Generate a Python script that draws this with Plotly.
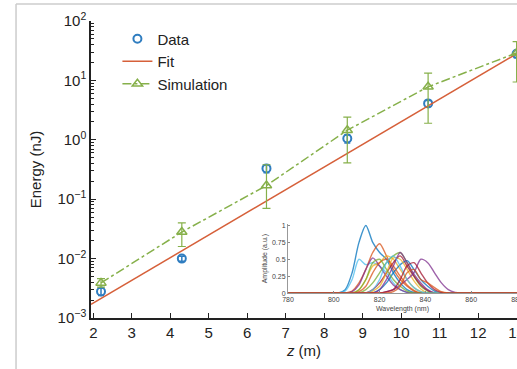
import plotly.graph_objects as go

# ---------------- main data ----------------
data_z = [2.2, 4.3, 6.5, 8.6, 10.7, 13.0]
data_E = [0.0028, 0.0100, 0.33, 1.05, 4.1, 28.0]
data_err = [0.0004, 0.0010, 0.05, 0.17, 0.5, 4.0]

fit_z = [1.94, 13.0]
fit_E = [0.0017, 28.0]

sim_z = [2.2, 4.3, 6.5, 8.6, 10.7, 13.0]
sim_E = [0.0039, 0.028, 0.17, 1.45, 7.8, 29.0]
sim_hi = [0.0046, 0.040, 0.38, 2.4, 13.3, 45.0]
sim_lo = [0.0033, 0.016, 0.07, 0.41, 1.9, 9.4]

y_tickvals = [1e-3, 1e-2, 1e-1, 1e0, 1e1, 1e2]
y_ticktext = ["10<sup>\u22123</sup>", "10<sup>\u22122</sup>", "10<sup>\u22121</sup>",
              "10<sup>0</sup>", "10<sup>1</sup>", "10<sup>2</sup>"]
y_minor_digits = [2, 3, 4, 5, 6, 7, 8, 9]
x_tickvals = [2, 3, 4, 5, 6, 7, 8, 9, 10, 11, 12, 13]

# ---------------- inset spectra ----------------
wl = [780, 802, 805, 808, 811, 814, 817, 820, 823, 826, 829, 832, 835, 838, 841, 844, 847, 850, 853, 856, 880]
spectra = [
    [0, 0, 0.05, 0.30, 0.75, 1.00, 0.75, 0.60, 0.50, 0.30, 0.15, 0.05, 0.01, 0, 0, 0, 0, 0, 0, 0, 0],
    [0, 0, 0.03, 0.20, 0.50, 0.42, 0.45, 0.40, 0.30, 0.15, 0.05, 0.01, 0, 0, 0, 0, 0, 0, 0, 0, 0],
    [0, 0, 0, 0.03, 0.15, 0.35, 0.60, 0.73, 0.55, 0.35, 0.20, 0.10, 0.03, 0, 0, 0, 0, 0, 0, 0, 0],
    [0, 0, 0, 0, 0.05, 0.20, 0.40, 0.45, 0.55, 0.50, 0.35, 0.20, 0.08, 0.02, 0, 0, 0, 0, 0, 0, 0],
    [0, 0, 0, 0.02, 0.12, 0.35, 0.52, 0.40, 0.25, 0.12, 0.05, 0.01, 0, 0, 0, 0, 0, 0, 0, 0, 0],
    [0, 0, 0, 0, 0, 0.05, 0.15, 0.30, 0.45, 0.55, 0.60, 0.45, 0.25, 0.10, 0.03, 0, 0, 0, 0, 0, 0],
    [0, 0, 0, 0, 0, 0, 0.05, 0.15, 0.30, 0.45, 0.55, 0.40, 0.25, 0.12, 0.04, 0, 0, 0, 0, 0, 0],
    [0, 0, 0, 0, 0, 0, 0, 0.05, 0.15, 0.30, 0.42, 0.48, 0.35, 0.20, 0.10, 0.03, 0, 0, 0, 0, 0],
    [0, 0, 0, 0, 0.02, 0.10, 0.30, 0.45, 0.50, 0.40, 0.25, 0.12, 0.04, 0, 0, 0, 0, 0, 0, 0, 0],
    [0, 0, 0, 0, 0, 0, 0.03, 0.10, 0.30, 0.52, 0.50, 0.35, 0.18, 0.06, 0, 0, 0, 0, 0, 0, 0],
    [0, 0, 0, 0, 0, 0, 0, 0.05, 0.20, 0.40, 0.60, 0.45, 0.28, 0.15, 0.05, 0, 0, 0, 0, 0, 0],
    [0, 0, 0, 0, 0, 0, 0, 0, 0.02, 0.05, 0.12, 0.20, 0.30, 0.50, 0.45, 0.30, 0.15, 0.05, 0.01, 0, 0],
    [0, 0, 0, 0, 0.05, 0.20, 0.45, 0.50, 0.35, 0.20, 0.10, 0.03, 0, 0, 0, 0, 0, 0, 0, 0, 0],
    [0, 0, 0, 0, 0, 0, 0.05, 0.20, 0.45, 0.55, 0.40, 0.20, 0.08, 0.02, 0, 0, 0, 0, 0, 0, 0],
    [0, 0, 0, 0, 0, 0, 0, 0, 0.02, 0.05, 0.20, 0.40, 0.45, 0.30, 0.15, 0.05, 0.01, 0, 0, 0, 0],
    [0, 0, 0, 0, 0, 0, 0, 0, 0, 0.02, 0.10, 0.30, 0.35, 0.20, 0.15, 0.08, 0.02, 0, 0, 0, 0],
]
spectra_colors = ["#0072BD", "#4DBEEE", "#D95319", "#EDB120", "#7E2F8E", "#77AC30", "#A2142F",
                  "#0072BD", "#D95319", "#EDB120", "#7E2F8E", "#7E2F8E", "#77AC30", "#4DBEEE",
                  "#A2142F", "#D95319"]
inset_xticks = [780, 800, 820, 840, 860, 880]
inset_yticks = [0, 0.25, 0.5, 0.75, 1]
inset_yticktext = ["0", "0.25", "0.5", "0.75", "1"]

BLUE = "#2f7dc0"
GREEN = "#86b04a"
RED = "#d6603a"
FONT = "Liberation Sans, Arial, sans-serif"

minor_vals = [d * 10.0 ** e for e in range(-3, 2) for d in y_minor_digits]

fig = go.Figure()

fig.add_trace(go.Scatter(
    x=data_z, y=data_E, mode="markers", name="Data",
    marker=dict(symbol="circle-open", size=8, color=BLUE, line=dict(width=2, color=BLUE)),
    error_y=dict(type="data", array=data_err, color=BLUE, thickness=1.5, width=3),
    cliponaxis=False,
))
fig.add_trace(go.Scatter(
    x=fit_z, y=fit_E, mode="lines", name="Fit",
    line=dict(color=RED, width=1.5),
))
fig.add_trace(go.Scatter(
    x=sim_z, y=sim_E, mode="lines+markers", name="Simulation",
    line=dict(color=GREEN, width=1.5, dash="dashdot"),
    marker=dict(symbol="triangle-up-open", size=9, color=GREEN, line=dict(width=1.5, color=GREEN)),
    error_y=dict(type="data", symmetric=False,
                 array=[h - e for h, e in zip(sim_hi, sim_E)],
                 arrayminus=[e - l for e, l in zip(sim_E, sim_lo)],
                 color=GREEN, thickness=1.2, width=4),
    cliponaxis=False,
))

for amp, col in zip(spectra, spectra_colors):
    fig.add_trace(go.Scatter(
        x=wl, y=amp, mode="lines", xaxis="x2", yaxis="y2", showlegend=False,
        line=dict(color=col, width=1.4, shape="spline", smoothing=0.8), opacity=0.75,
    ))

fig.update_layout(
    width=517, height=369,
    margin=dict(l=91, r=0, t=21, b=51),
    paper_bgcolor="white", plot_bgcolor="rgba(0,0,0,0)",
    font=dict(family=FONT, color="#222"),
    showlegend=True,
    legend=dict(x=0.062, y=0.995, xanchor="left", yanchor="top",
                font=dict(size=15, family=FONT, color="#222"),
                bgcolor="rgba(0,0,0,0)", tracegroupgap=0),
    xaxis=dict(
        range=[1.94, 13.01], tickvals=x_tickvals, ticks="inside", ticklen=5, tickwidth=1.3,
        tickcolor="#222", showline=True, linecolor="#222", linewidth=1.5, showgrid=False,
        zeroline=False, tickfont=dict(size=15, family=FONT, color="#222"), automargin=False,
        ticklabeloverflow="allow",
        title=dict(text="<i>z</i> (m)", font=dict(size=15, family=FONT, color="#222"), standoff=6),
    ),
    yaxis=dict(
        type="log", range=[-3, 2], tickvals=y_tickvals, ticktext=y_ticktext,
        ticks="inside", ticklen=5, tickwidth=1.3, tickcolor="#222", automargin=False,
        showline=True, linecolor="#222", linewidth=1.5, showgrid=False, zeroline=False,
        tickfont=dict(size=15, family=FONT, color="#222"),
        minor=dict(ticks="inside", ticklen=3, tickwidth=1, tickcolor="#222", showgrid=False,
                   tickvals=minor_vals),
        title=dict(text="Energy (nJ)", font=dict(size=15, family=FONT, color="#222"), standoff=12),
    ),
    xaxis2=dict(
        domain=[0.4624, 1.0], anchor="y2", range=[780, 880], tickvals=inset_xticks,
        ticks="inside", ticklen=2, tickcolor="#888", showline=True, linecolor="#999", linewidth=1,
        showgrid=False, zeroline=False, tickfont=dict(size=7, family=FONT, color="#444"),
        automargin=False, ticklabeloverflow="allow",
        title=dict(text="Wavelength (nm)", font=dict(size=7, family=FONT, color="#444"), standoff=3),
    ),
    yaxis2=dict(
        domain=[0.084, 0.316], anchor="x2", range=[0, 1.02], tickvals=inset_yticks,
        ticktext=inset_yticktext, ticks="inside", ticklen=2, tickcolor="#888",
        showline=True, linecolor="#999", linewidth=1, showgrid=False, zeroline=False,
        tickfont=dict(size=7, family=FONT, color="#444"), automargin=False,
        title=dict(text="Amplitude (a.u.)", font=dict(size=7, family=FONT, color="#444"), standoff=3),
    ),
    shapes=[
        dict(type="line", xref="paper", yref="paper", x0=-0.176, x1=1.1, y0=1.057, y1=1.057,
             line=dict(color="#cccccc", width=1.5)),
        dict(type="line", xref="paper", yref="paper", x0=-0.176, x1=-0.176, y0=1.057, y1=-0.3,
             line=dict(color="#cccccc", width=1.5)),
    ],
)

fig.write_html("out.html", config={"displayModeBar": False},
               post_script="document.body.style.margin='0';document.body.style.overflow='hidden';")
